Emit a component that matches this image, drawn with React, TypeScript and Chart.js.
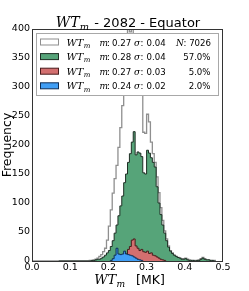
import React, { useEffect, useRef } from 'react';
import { Chart, registerables } from 'chart.js';

Chart.register(...registerables);

// ---- data ----
const BIN_WIDTH = 0.005;

const allRangeStart = 0.0;
const allStart = 0.15;
const allCounts = [
  1, 1, 2, 3, 5, 8, 11, 16, 22, 36,
  60, 88, 117, 142, 165, 196, 230, 268, 335, 380,
  405, 395, 410, 390, 380, 350, 330, 300, 222, 220,
  253, 240, 205, 185, 170, 145, 118, 92, 70, 52,
  38, 26, 18, 14, 10, 8, 6, 5, 4, 4,
  5, 3, 2, 1, 1, 1, 1, 2, 4, 6,
  4, 2, 2, 1, 1, 1,
];

const greenRangeStart = 0.07;
const greenStart = 0.15;
const greenCounts = [
  0, 1, 1, 2, 3, 3, 5, 7, 10, 14,
  18, 25, 35, 48, 62, 78, 95, 112, 135, 150,
  170, 185, 205, 223, 183, 188, 186, 180, 152, 150,
  191, 186, 178, 170, 162, 128, 100, 80, 62, 48,
  35, 24, 17, 13, 10, 8, 6, 5, 3, 3,
  4, 2, 1, 1, 1, 0, 1, 1, 3, 5,
  3, 2, 2, 1, 1, 0,
];

const redStart = 0.22;
const redCounts = [
  1, 2, 3, 5, 8, 12, 20, 25, 36, 38,
  26, 22, 18, 20, 16, 15, 17, 13, 14, 10,
  9, 7, 5, 3, 2, 1,
];

const blueStart = 0.205;
const blueCounts = [1, 4, 10, 22, 12, 11, 12, 17, 12, 11, 10, 9, 7, 5, 3, 2, 1];

const titleYear = '2082';
const titleRegion = 'Equator';
const xTicks = [0.0, 0.1, 0.2, 0.3, 0.4, 0.5];
const yTicks = [0, 50, 100, 150, 200, 250, 300, 350, 400];
const legendMeans = [0.27, 0.28, 0.27, 0.24];
const legendSigmas = [0.04, 0.04, 0.03, 0.02];
const totalN = 7026;
const legendShares = [57.0, 5.0, 2.0];

// ---- styles ----
const SANS = '"DejaVu Sans", sans-serif';
const SERIF = '"DejaVu Serif", serif';
const fills = ['#ffffff', '#56a479', '#d36f6f', '#409ef5'];
const edges = ['#8f8f8f', '#1e2e24', '#4a1c1c', '#0f2d55'];

function histPoints(rangeStart: number, start: number, counts: number[]) {
  const pts: { x: number; y: number }[] = [{ x: rangeStart, y: 0 }];
  counts.forEach((c, i) => pts.push({ x: start + i * BIN_WIDTH, y: c }));
  pts.push({ x: start + counts.length * BIN_WIDTH, y: 0 });
  return pts;
}

function drawWTm(ctx: CanvasRenderingContext2D, x: number, y: number, size: number) {
  ctx.font = `italic ${size}px ${SERIF}`;
  ctx.fillText('WT', x, y);
  const w = ctx.measureText('WT').width;
  ctx.font = `italic ${size * 0.7}px ${SERIF}`;
  ctx.fillText('m', x + w + 0.3, y + size * 0.22);
  return w + 0.3 + ctx.measureText('m').width;
}

function measureWTm(ctx: CanvasRenderingContext2D, size: number) {
  ctx.font = `italic ${size}px ${SERIF}`;
  const w = ctx.measureText('WT').width;
  ctx.font = `italic ${size * 0.7}px ${SERIF}`;
  return w + 0.3 + ctx.measureText('m').width;
}

const decorPlugin = {
  id: 'decor',
  afterDraw(chart: any) {
    const ctx: CanvasRenderingContext2D = chart.ctx;
    const ca = chart.chartArea;
    ctx.save();
    ctx.fillStyle = '#000';
    ctx.textBaseline = 'alphabetic';
    ctx.textAlign = 'left';

    // frame
    ctx.strokeStyle = '#333';
    ctx.lineWidth = 1;
    ctx.strokeRect(ca.left + 0.5, ca.top + 0.5, ca.right - ca.left - 1, ca.bottom - ca.top);

    // legend box
    const lx = ca.left + 4.5;
    const ly = ca.top + 4.5;
    const lw = ca.right - ca.left - 9;
    const lh = 62;
    ctx.fillStyle = '#fff';
    ctx.fillRect(lx, ly, lw, lh);
    ctx.strokeStyle = '#a8a8a8';
    ctx.strokeRect(lx, ly, lw, lh);

    const num = `8.6px ${SANS}`;
    for (let i = 0; i < 4; i++) {
      const base = ly + 12 + i * 14.6;
      // swatch
      ctx.fillStyle = fills[i];
      ctx.fillRect(lx + 4, base - 6.5, 18, 6);
      ctx.strokeStyle = edges[i];
      ctx.lineWidth = 1;
      ctx.strokeRect(lx + 4, base - 6.5, 18, 6);
      ctx.fillStyle = '#000';
      drawWTm(ctx, lx + 30, base, 10);
      ctx.font = `italic 9px ${SERIF}`;
      ctx.fillText('m', lx + 63, base);
      ctx.font = num;
      ctx.fillText(':', lx + 70.5, base);
      ctx.fillText(legendMeans[i].toFixed(2), lx + 75.5, base);
      ctx.font = `italic 9px ${SERIF}`;
      ctx.fillText('\u03c3', lx + 97.5, base);
      ctx.font = num;
      ctx.fillText(':', lx + 104, base);
      ctx.fillText(legendSigmas[i].toFixed(2), lx + 110, base);
      if (i === 0) {
        ctx.font = `italic 9px ${SERIF}`;
        ctx.fillText('N', lx + 139.5, base);
        ctx.font = num;
        ctx.fillText(': ' + totalN, lx + 147, base);
      } else {
        ctx.font = num;
        ctx.textAlign = 'right';
        ctx.fillText(legendShares[i - 1].toFixed(1) + '%', lx + 174, base);
        ctx.textAlign = 'left';
      }
    }

    // title
    ctx.fillStyle = '#000';
    const tSize = 14;
    const rest = ` - ${titleYear} - ${titleRegion}`;
    const wm = measureWTm(ctx, tSize);
    ctx.font = `13px ${SANS}`;
    const wr = ctx.measureText(rest).width;
    const cx = (ca.left + ca.right) / 2;
    const tx = cx - (wm + wr) / 2;
    drawWTm(ctx, tx, 27, tSize);
    ctx.font = `13px ${SANS}`;
    ctx.fillText(rest, tx + wm + 1, 27);

    // x title
    const xSize = 13;
    const xm = measureWTm(ctx, xSize);
    ctx.font = `12.5px ${SANS}`;
    const xu = ctx.measureText('[MK]').width;
    const gap = 11;
    const xx = cx - (xm + gap + xu) / 2 + 2;
    drawWTm(ctx, xx, 284, xSize);
    ctx.font = `12.5px ${SANS}`;
    ctx.fillText('[MK]', xx + xm + gap, 284);

    // y title
    ctx.save();
    ctx.translate(11, (ca.top + ca.bottom) / 2);
    ctx.rotate(-Math.PI / 2);
    ctx.textAlign = 'center';
    ctx.font = `12.5px ${SANS}`;
    ctx.fillText('Frequency', 0, 0);
    ctx.restore();

    ctx.restore();
  },
};

export default function App() {
  const ref = useRef<HTMLCanvasElement | null>(null);
  useEffect(() => {
    if (!ref.current) return;
    const mk = (label: string, pts: any, i: number, order: number, width: number) => ({
      label,
      data: pts,
      stepped: true,
      fill: 'origin',
      backgroundColor: fills[i],
      borderColor: edges[i],
      borderWidth: width,
      pointRadius: 0,
      order,
    });
    const chart = new Chart(ref.current, {
      type: 'line',
      data: {
        datasets: [
          mk('all', histPoints(allRangeStart, allStart, allCounts), 0, 4, 1.3),
          mk('green', histPoints(greenRangeStart, greenStart, greenCounts), 1, 3, 1),
          mk('red', histPoints(redStart, redStart, redCounts), 2, 2, 1),
          mk('blue', histPoints(blueStart, blueStart, blueCounts), 3, 1, 1),
        ] as any,
      },
      options: {
        animation: false,
        responsive: false,
        devicePixelRatio: 1,
        layout: { padding: { left: 0, right: 26, top: 29, bottom: 0 } },
        plugins: {
          legend: { display: false },
          title: { display: false },
          tooltip: { enabled: false },
        },
        scales: {
          x: {
            type: 'linear',
            min: xTicks[0],
            max: xTicks[xTicks.length - 1],
            afterBuildTicks: (s: any) => { s.ticks = xTicks.map((v) => ({ value: v })); },
            afterFit: (s: any) => { s.height = 30; },
            ticks: {
              callback: (v: any) => Number(v).toFixed(1),
              font: { family: SANS, size: 9.5 },
              color: '#000',
              padding: 1,
              maxRotation: 0,
              autoSkip: false,
            },
            grid: { display: false, drawTicks: false },
            border: { display: false },
          },
          y: {
            type: 'linear',
            min: yTicks[0],
            max: yTicks[yTicks.length - 1],
            afterBuildTicks: (s: any) => { s.ticks = yTicks.map((v) => ({ value: v })); },
            afterFit: (s: any) => { s.width = 32; },
            ticks: {
              font: { family: SANS, size: 9.5 },
              color: '#000',
              padding: 2,
            },
            grid: { display: false, drawTicks: false },
            border: { display: false },
          },
        },
      } as any,
      plugins: [decorPlugin],
    });
    return () => chart.destroy();
  }, []);
  return (
    <div style={{ position: 'fixed', left: 0, top: 0, width: 249, height: 291, background: '#fff' }}>
      <canvas ref={ref} width={249} height={291} style={{ display: 'block', width: 249, height: 291 }} />
    </div>
  );
}
